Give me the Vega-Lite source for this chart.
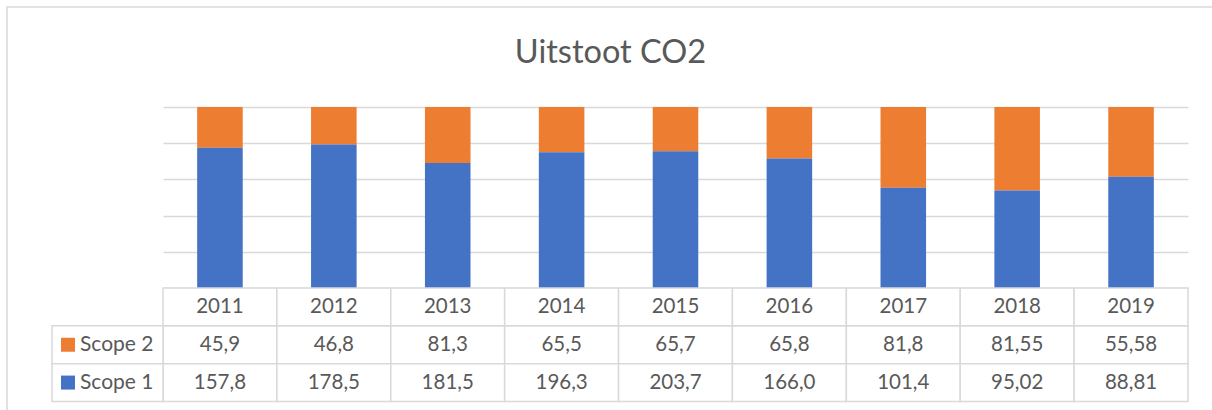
{
  "$schema": "https://vega.github.io/schema/vega-lite/v6.json",
  "width": 1207,
  "height": 405,
  "autosize": {"type": "none"},
  "padding": {"left": 7, "top": 7, "right": -2, "bottom": -2},
  "background": "white",
  "title": {"text": "Uitstoot CO2", "font": "Lato", "fontSize": 32.5, "fontWeight": "normal", "color": "#595959", "anchor": "middle", "offset": -62, "frame": "group"},
  "config": {"view": {"stroke": "#d9d9d9", "strokeWidth": 1.5}, "font": "Lato"},
  "data": {"values": [
    {"year": "2011", "series": "Scope 2", "value": 45.9, "text": "45,9"},
    {"year": "2011", "series": "Scope 1", "value": 157.8, "text": "157,8"},
    {"year": "2012", "series": "Scope 2", "value": 46.8, "text": "46,8"},
    {"year": "2012", "series": "Scope 1", "value": 178.5, "text": "178,5"},
    {"year": "2013", "series": "Scope 2", "value": 81.3, "text": "81,3"},
    {"year": "2013", "series": "Scope 1", "value": 181.5, "text": "181,5"},
    {"year": "2014", "series": "Scope 2", "value": 65.5, "text": "65,5"},
    {"year": "2014", "series": "Scope 1", "value": 196.3, "text": "196,3"},
    {"year": "2015", "series": "Scope 2", "value": 65.7, "text": "65,7"},
    {"year": "2015", "series": "Scope 1", "value": 203.7, "text": "203,7"},
    {"year": "2016", "series": "Scope 2", "value": 65.8, "text": "65,8"},
    {"year": "2016", "series": "Scope 1", "value": 166.0, "text": "166,0"},
    {"year": "2017", "series": "Scope 2", "value": 81.8, "text": "81,8"},
    {"year": "2017", "series": "Scope 1", "value": 101.4, "text": "101,4"},
    {"year": "2018", "series": "Scope 2", "value": 81.55, "text": "81,55"},
    {"year": "2018", "series": "Scope 1", "value": 95.02, "text": "95,02"},
    {"year": "2019", "series": "Scope 2", "value": 55.58, "text": "55,58"},
    {"year": "2019", "series": "Scope 1", "value": 88.81, "text": "88,81"}
  ]},
  "layer": [
    {
      "mark": {"type": "bar", "width": {"band": 0.4}},
      "encoding": {
        "x": {"field": "year", "type": "ordinal", "scale": {"range": [156, 1181], "paddingInner": 0, "paddingOuter": 0}, "axis": null},
        "y": {"field": "value", "type": "quantitative", "stack": "normalize",
              "scale": {"domain": [0, 1], "range": [281, 100], "nice": false},
              "axis": {"values": [0, 0.2, 0.4, 0.6, 0.8, 1], "labels": false, "ticks": false, "domain": false, "grid": true, "gridColor": "#d9d9d9", "gridWidth": 1.3, "title": null}},
        "color": {"field": "series", "type": "nominal", "scale": {"domain": ["Scope 2", "Scope 1"], "range": ["#ED7D31", "#4472C4"]}, "legend": null},
        "order": {"field": "series", "sort": "ascending"}
      }
    },
    {
      "layer": [
        {
          "mark": {"type": "rect", "fill": "white", "stroke": "#d9d9d9", "strokeWidth": 1.5},
          "encoding": {
            "x": {"field": "year", "type": "ordinal", "scale": {"range": [156, 1181], "paddingInner": 0, "paddingOuter": 0}, "axis": null},
            "y": {"field": "series", "type": "ordinal", "scale": {"domain": ["year", "Scope 2", "Scope 1"], "range": [281, 394.5], "paddingInner": 0, "paddingOuter": 0}, "axis": null}
          }
        },
        {
          "transform": [{"aggregate": [{"op": "count", "as": "n"}], "groupby": ["year"]}],
          "layer": [
            {
              "mark": {"type": "rect", "fill": "white", "stroke": "#d9d9d9", "strokeWidth": 1.5},
              "encoding": {
                "x": {"field": "year", "type": "ordinal", "axis": null},
                "y": {"datum": "year", "type": "ordinal", "axis": null}
              }
            },
            {
              "mark": {"type": "text", "fontSize": 20.5, "color": "#595959", "font": "Lato"},
              "encoding": {
                "x": {"field": "year", "type": "ordinal", "axis": null},
                "y": {"datum": "year", "type": "ordinal", "axis": null},
                "text": {"field": "year"}
              }
            }
          ]
        },
        {
          "mark": {"type": "text", "fontSize": 20.5, "color": "#595959", "font": "Lato"},
          "encoding": {
            "x": {"field": "year", "type": "ordinal", "axis": null},
            "y": {"field": "series", "type": "ordinal", "axis": null},
            "text": {"field": "text"}
          }
        }
      ]
    },
    {
      "transform": [{"aggregate": [{"op": "count", "as": "n"}], "groupby": ["series"]}],
      "layer": [
        {
          "mark": {"type": "rect", "fill": "white", "stroke": "#d9d9d9", "strokeWidth": 1.5},
          "encoding": {
            "x": {"datum": "hdr", "type": "ordinal", "scale": {"domain": ["hdr"], "range": [45, 156], "paddingInner": 0, "paddingOuter": 0}, "axis": null},
            "y": {"field": "series", "type": "ordinal", "scale": {"domain": ["year", "Scope 2", "Scope 1"], "range": [281, 394.5], "paddingInner": 0, "paddingOuter": 0}, "axis": null}
          }
        },
        {
          "mark": {"type": "point", "shape": "square", "filled": true, "size": 196, "opacity": 1, "xOffset": 16},
          "encoding": {
            "x": {"datum": "hdr", "type": "ordinal", "bandPosition": 0, "axis": null},
            "y": {"field": "series", "type": "ordinal", "axis": null},
            "color": {"field": "series", "type": "nominal", "legend": null}
          }
        },
        {
          "mark": {"type": "text", "align": "left", "dx": 28, "fontSize": 21, "color": "#595959", "font": "Lato"},
          "encoding": {
            "x": {"datum": "hdr", "type": "ordinal", "bandPosition": 0, "axis": null},
            "y": {"field": "series", "type": "ordinal", "axis": null},
            "text": {"field": "series"}
          }
        }
      ]
    }
  ],
  "resolve": {"scale": {"x": "independent", "y": "independent"}, "axis": {"x": "independent", "y": "independent"}}
}
